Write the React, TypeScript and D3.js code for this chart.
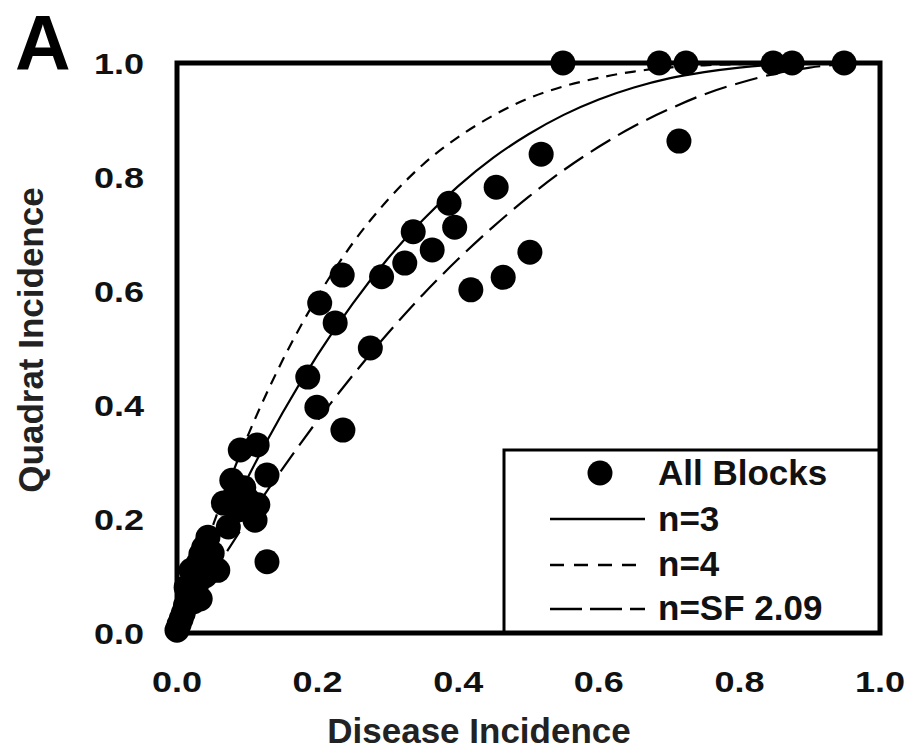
import React from 'react';
import * as d3 from 'd3';

// observed points (disease incidence, quadrat incidence)
const diseaseInc = [
  0.549, 0.686, 0.724, 0.848, 0.875, 0.949,
  0.714, 0.518, 0.454, 0.502, 0.464, 0.418,
  0.387, 0.395, 0.336, 0.363, 0.324, 0.291, 0.235, 0.203, 0.225, 0.275,
  0.186, 0.199, 0.236, 0.128,
  0.090, 0.114, 0.078, 0.128, 0.087, 0.111, 0.073, 0.100, 0.066, 0.095, 0.105, 0.115, 0.082,
  0.044, 0.058, 0.033, 0.050, 0.040, 0.028,
  0.000, 0.003, 0.006, 0.009, 0.012, 0.015, 0.018, 0.022, 0.026, 0.030, 0.034, 0.020, 0.013, 0.038, 0.024,
];
const quadratInc = [
  1.0, 1.0, 1.0, 1.0, 1.0, 1.0,
  0.863, 0.840, 0.782, 0.668, 0.624, 0.602,
  0.754, 0.712, 0.704, 0.672, 0.649, 0.625, 0.628, 0.579, 0.544, 0.500,
  0.449, 0.396, 0.356, 0.125,
  0.321, 0.330, 0.268, 0.277, 0.216, 0.198, 0.186, 0.235, 0.228, 0.255, 0.212, 0.225, 0.240,
  0.168, 0.110, 0.060, 0.140, 0.100, 0.085,
  0.005, 0.015, 0.025, 0.035, 0.048, 0.062, 0.075, 0.090, 0.105, 0.122, 0.138, 0.110, 0.080, 0.150, 0.055,
];

// fitted curves
const curveX = [0, 0.025, 0.05, 0.1, 0.15, 0.2, 0.25, 0.3, 0.35, 0.4, 0.45, 0.5, 0.55, 0.6, 0.65, 0.7, 0.75, 0.8, 0.85, 0.9, 0.95, 1.0];
const n3Y = [0, 0.073, 0.143, 0.271, 0.386, 0.488, 0.578, 0.657, 0.725, 0.784, 0.834, 0.875, 0.909, 0.936, 0.957, 0.973, 0.984, 0.992, 0.997, 0.999, 1.0, 1.0];
const n4Y = [0, 0.096, 0.185, 0.344, 0.478, 0.590, 0.684, 0.760, 0.822, 0.870, 0.908, 0.938, 0.959, 0.974, 0.985, 0.992, 0.996, 0.998, 0.999, 1.0, 1.0, 1.0];
const sfY = [0, 0.052, 0.102, 0.198, 0.288, 0.373, 0.452, 0.526, 0.594, 0.656, 0.713, 0.765, 0.812, 0.853, 0.889, 0.919, 0.945, 0.965, 0.981, 0.992, 0.998, 1.0];

const ticks = [0, 0.2, 0.4, 0.6, 0.8, 1.0];
const legendLabels = ['All Blocks', 'n=3', 'n=4', 'n=SF 2.09'];

const font = '"Liberation Sans", Arial, sans-serif';

const App = () => {
  const width = 912;
  const height = 751;
  const plot = { left: 177, right: 880, top: 63, bottom: 633 };

  const x = d3.scaleLinear().domain([0, 1]).range([plot.left, plot.right]);
  const y = d3.scaleLinear().domain([0, 1]).range([plot.bottom, plot.top]);

  const line = d3.line<number>()
    .x((d, i) => x(curveX[i]))
    .y(d => y(d))
    .curve(d3.curveMonotoneX);

  const curves = [
    { vals: n3Y, dash: null, legendDash: null },
    { vals: n4Y, dash: '11,8', legendDash: '14,10' },
    { vals: sfY, dash: '23,9', legendDash: '32,8' },
  ];

  const legend = { x: 504, y: 450 };
  const legendRows = [473, 519, 565, 609];
  const legendBase = [485, 531, 576, 620];

  return (
    <svg
      width={width}
      height={height}
      style={{ position: 'absolute', left: 0, top: 0, background: '#fff' }}
      fontFamily={font}
      fontWeight="bold"
    >
      {curves.map((c, i) => (
        <path
          key={i}
          d={line(c.vals) || ''}
          fill="none"
          stroke="#000"
          strokeWidth={2.2}
          strokeDasharray={c.dash || undefined}
        />
      ))}

      {/* legend box */}
      <rect
        x={legend.x}
        y={legend.y}
        width={plot.right - legend.x}
        height={plot.bottom - legend.y}
        fill="#fff"
        stroke="#000"
        strokeWidth={3}
      />
      <circle cx={600} cy={legendRows[0]} r={12.5} fill="#000" />
      {curves.map((c, i) => (
        <line
          key={i}
          x1={550}
          x2={645}
          y1={legendRows[i + 1]}
          y2={legendRows[i + 1]}
          stroke="#000"
          strokeWidth={2.4}
          strokeDasharray={c.legendDash || undefined}
        />
      ))}
      {legendLabels.map((t, i) => (
        <text key={t} x={658} y={legendBase[i]} fontSize={35} fill="#111">{t}</text>
      ))}

      {/* frame */}
      <rect
        x={plot.left}
        y={plot.top}
        width={plot.right - plot.left}
        height={plot.bottom - plot.top}
        fill="none"
        stroke="#000"
        strokeWidth={5}
      />

      {diseaseInc.map((d, i) => (
        <circle key={i} cx={x(d)} cy={y(quadratInc[i])} r={12.5} fill="#000" />
      ))}

      {/* y ticks */}
      {ticks.map(t => (
        <text
          key={'y' + t}
          transform={`translate(144,${y(t) + 11}) scale(1.2,1)`}
          textAnchor="end"
          fontSize={30}
          fill="#111"
        >
          {t.toFixed(1)}
        </text>
      ))}
      {/* x ticks */}
      {ticks.map(t => (
        <text
          key={'x' + t}
          transform={`translate(${x(t)},692) scale(1.2,1)`}
          textAnchor="middle"
          fontSize={30}
          fill="#111"
        >
          {t.toFixed(1)}
        </text>
      ))}

      <text x={479} y={743} textAnchor="middle" fontSize={35} fill="#222">Disease Incidence</text>
      <text
        transform="translate(43,340) rotate(-90)"
        textAnchor="middle"
        fontSize={35}
        fill="#222"
      >
        Quadrat Incidence
      </text>
      <text x={15} y={70} fontSize={77} fill="#000">A</text>
    </svg>
  );
};

export default App;
